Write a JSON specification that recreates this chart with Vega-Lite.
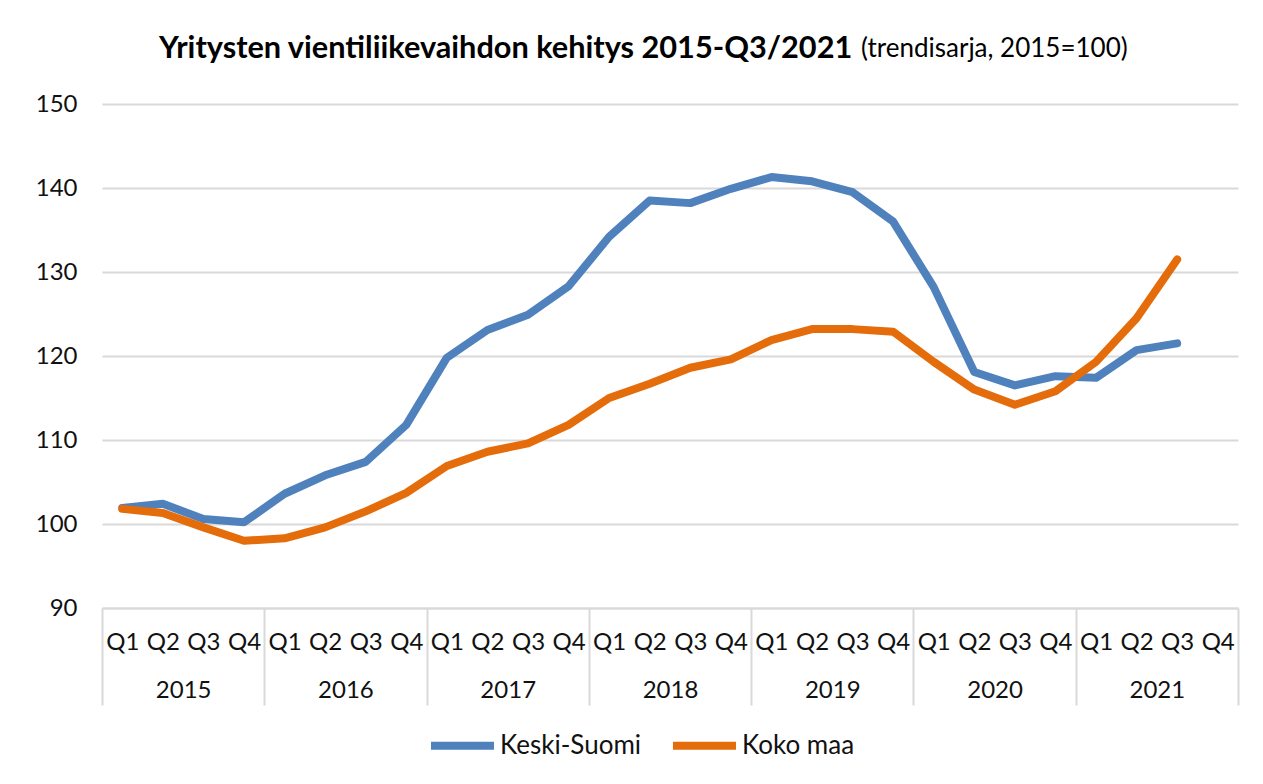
{
  "$schema": "https://vega.github.io/schema/vega-lite/v6.json",
  "width": 1136,
  "height": 504,
  "autosize": {"type": "none"},
  "padding": {"left": 102, "top": 104, "right": 25, "bottom": 176},
  "background": "white",
  "config": {
    "font": "Lato",
    "view": {"stroke": null},
    "axis": {"labelColor": "#111111", "titleColor": "#111111"},
    "legend": {"labelColor": "#111111"}
  },
  "title": {
    "text": "Yritysten vientiliikevaihdon kehitys 2015-Q3/2021",
    "subtitle": "\u200b\u2003\u2003\u2003\u2003\u2003\u2003\u2003\u2003\u2003\u2003\u2003\u2003\u2003\u2003\u2003\u2003\u2003\u2003\u2003\u2003\u2003\u2003\u2003\u2003\u2003\u2003\u2003\u2003\u2003\u2003\u2003\u2003\u2003\u2003\u2003\u2003(trendisarja, 2015=100)",
    "anchor": "start",
    "frame": "group",
    "dx": 57,
    "offset": 27,
    "fontSize": 30.7,
    "fontWeight": "bold",
    "color": "#000000",
    "subtitleFontSize": 26,
    "subtitleColor": "#000000",
    "subtitlePadding": -29
  },
  "datasets": {
    "vals": [
      {"period": "2015-Q1", "year": "2015", "series": "Keski-Suomi", "value": 101.9},
      {"period": "2015-Q2", "year": "2015", "series": "Keski-Suomi", "value": 102.4},
      {"period": "2015-Q3", "year": "2015", "series": "Keski-Suomi", "value": 100.6},
      {"period": "2015-Q4", "year": "2015", "series": "Keski-Suomi", "value": 100.2},
      {"period": "2016-Q1", "year": "2016", "series": "Keski-Suomi", "value": 103.6},
      {"period": "2016-Q2", "year": "2016", "series": "Keski-Suomi", "value": 105.8},
      {"period": "2016-Q3", "year": "2016", "series": "Keski-Suomi", "value": 107.4},
      {"period": "2016-Q4", "year": "2016", "series": "Keski-Suomi", "value": 111.8},
      {"period": "2017-Q1", "year": "2017", "series": "Keski-Suomi", "value": 119.8},
      {"period": "2017-Q2", "year": "2017", "series": "Keski-Suomi", "value": 123.1},
      {"period": "2017-Q3", "year": "2017", "series": "Keski-Suomi", "value": 124.9},
      {"period": "2017-Q4", "year": "2017", "series": "Keski-Suomi", "value": 128.3},
      {"period": "2018-Q1", "year": "2018", "series": "Keski-Suomi", "value": 134.2},
      {"period": "2018-Q2", "year": "2018", "series": "Keski-Suomi", "value": 138.5},
      {"period": "2018-Q3", "year": "2018", "series": "Keski-Suomi", "value": 138.2},
      {"period": "2018-Q4", "year": "2018", "series": "Keski-Suomi", "value": 139.9},
      {"period": "2019-Q1", "year": "2019", "series": "Keski-Suomi", "value": 141.3},
      {"period": "2019-Q2", "year": "2019", "series": "Keski-Suomi", "value": 140.8},
      {"period": "2019-Q3", "year": "2019", "series": "Keski-Suomi", "value": 139.5},
      {"period": "2019-Q4", "year": "2019", "series": "Keski-Suomi", "value": 136.0},
      {"period": "2020-Q1", "year": "2020", "series": "Keski-Suomi", "value": 128.2},
      {"period": "2020-Q2", "year": "2020", "series": "Keski-Suomi", "value": 118.1},
      {"period": "2020-Q3", "year": "2020", "series": "Keski-Suomi", "value": 116.5},
      {"period": "2020-Q4", "year": "2020", "series": "Keski-Suomi", "value": 117.6},
      {"period": "2021-Q1", "year": "2021", "series": "Keski-Suomi", "value": 117.4},
      {"period": "2021-Q2", "year": "2021", "series": "Keski-Suomi", "value": 120.7},
      {"period": "2021-Q3", "year": "2021", "series": "Keski-Suomi", "value": 121.5},
      {"period": "2015-Q1", "year": "2015", "series": "Koko maa", "value": 101.8},
      {"period": "2015-Q2", "year": "2015", "series": "Koko maa", "value": 101.3},
      {"period": "2015-Q3", "year": "2015", "series": "Koko maa", "value": 99.6},
      {"period": "2015-Q4", "year": "2015", "series": "Koko maa", "value": 98.0},
      {"period": "2016-Q1", "year": "2016", "series": "Koko maa", "value": 98.3},
      {"period": "2016-Q2", "year": "2016", "series": "Koko maa", "value": 99.6},
      {"period": "2016-Q3", "year": "2016", "series": "Koko maa", "value": 101.5},
      {"period": "2016-Q4", "year": "2016", "series": "Koko maa", "value": 103.7},
      {"period": "2017-Q1", "year": "2017", "series": "Koko maa", "value": 106.9},
      {"period": "2017-Q2", "year": "2017", "series": "Koko maa", "value": 108.6},
      {"period": "2017-Q3", "year": "2017", "series": "Koko maa", "value": 109.6},
      {"period": "2017-Q4", "year": "2017", "series": "Koko maa", "value": 111.8},
      {"period": "2018-Q1", "year": "2018", "series": "Koko maa", "value": 115.0},
      {"period": "2018-Q2", "year": "2018", "series": "Koko maa", "value": 116.7},
      {"period": "2018-Q3", "year": "2018", "series": "Koko maa", "value": 118.6},
      {"period": "2018-Q4", "year": "2018", "series": "Koko maa", "value": 119.6},
      {"period": "2019-Q1", "year": "2019", "series": "Koko maa", "value": 121.9},
      {"period": "2019-Q2", "year": "2019", "series": "Koko maa", "value": 123.2},
      {"period": "2019-Q3", "year": "2019", "series": "Koko maa", "value": 123.2},
      {"period": "2019-Q4", "year": "2019", "series": "Koko maa", "value": 122.9},
      {"period": "2020-Q1", "year": "2020", "series": "Koko maa", "value": 119.3},
      {"period": "2020-Q2", "year": "2020", "series": "Koko maa", "value": 116.0},
      {"period": "2020-Q3", "year": "2020", "series": "Koko maa", "value": 114.2},
      {"period": "2020-Q4", "year": "2020", "series": "Koko maa", "value": 115.8},
      {"period": "2021-Q1", "year": "2021", "series": "Koko maa", "value": 119.3},
      {"period": "2021-Q2", "year": "2021", "series": "Koko maa", "value": 124.5},
      {"period": "2021-Q3", "year": "2021", "series": "Koko maa", "value": 131.5}
    ]
  },
  "data": {"name": "vals"},
  "layer": [
    {
      "mark": {"type": "line", "strokeWidth": 8, "strokeCap": "round", "strokeJoin": "round"},
      "encoding": {
        "x": {
          "field": "period",
          "type": "ordinal",
          "sort": null,
          "scale": {
            "type": "point",
            "padding": 0.5,
            "domain": ["2015-Q1","2015-Q2","2015-Q3","2015-Q4","2016-Q1","2016-Q2","2016-Q3","2016-Q4","2017-Q1","2017-Q2","2017-Q3","2017-Q4","2018-Q1","2018-Q2","2018-Q3","2018-Q4","2019-Q1","2019-Q2","2019-Q3","2019-Q4","2020-Q1","2020-Q2","2020-Q3","2020-Q4","2021-Q1","2021-Q2","2021-Q3","2021-Q4"]
          },
          "axis": {
            "orient": "bottom",
            "title": null,
            "ticks": false,
            "grid": false,
            "domain": true,
            "domainColor": "#D9D9D9",
            "domainWidth": 2,
            "labelExpr": "substring(datum.value, 5)",
            "labelAngle": 0,
            "labelFontSize": 24,
            "labelPadding": 22,
            "labelBaseline": "top"
          }
        },
        "y": {
          "field": "value",
          "type": "quantitative",
          "scale": {"domain": [90, 150], "zero": false, "nice": false},
          "axis": {
            "title": null,
            "values": [90, 100, 110, 120, 130, 140, 150],
            "ticks": false,
            "domain": false,
            "grid": true,
            "gridColor": "#D9D9D9",
            "gridWidth": 2,
            "labelFontSize": 24,
            "labelPadding": 25
          }
        },
        "color": {
          "field": "series",
          "type": "nominal",
          "scale": {"domain": ["Keski-Suomi", "Koko maa"], "range": ["#4F81BD", "#E46C0A"]},
          "legend": {
            "title": null,
            "orient": "none",
            "direction": "horizontal",
            "legendX": 325,
            "legendY": 606,
            "symbolType": "stroke",
            "symbolSize": 3969,
            "symbolStrokeWidth": 8,
            "labelFontSize": 26,
            "labelOffset": 2,
            "columnPadding": 15
          }
        }
      }
    },
    {
      "mark": {"type": "point", "opacity": 0},
      "encoding": {
        "x": {
          "field": "year",
          "type": "ordinal",
          "scale": {"type": "band", "paddingInner": 0, "paddingOuter": 0, "domain": ["2015","2016","2017","2018","2019","2020","2021"]},
          "axis": {
            "orient": "bottom",
            "title": null,
            "domain": false,
            "grid": false,
            "ticks": true,
            "tickBand": "extent",
            "tickSize": 97,
            "tickColor": "#D9D9D9",
            "tickWidth": 2,
            "labelAngle": 0,
            "labelFontSize": 24,
            "labelPadding": -27,
            "labelBaseline": "top"
          }
        }
      }
    }
  ],
  "resolve": {"scale": {"x": "independent"}, "axis": {"x": "independent"}}
}
